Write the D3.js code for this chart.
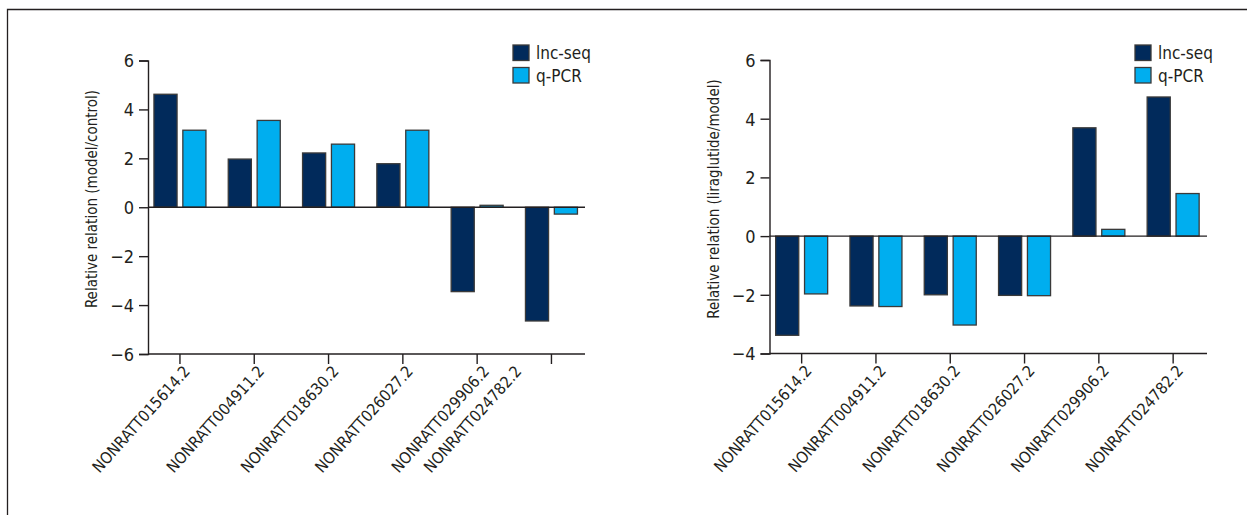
<!DOCTYPE html>
<html>
<head>
<meta charset="utf-8">
<script src="https://cdn.jsdelivr.net/npm/d3@7"></script>
<style>
  html, body { margin: 0; padding: 0; background: #fff; }
  svg { display: block; }
  text { font-family: "Liberation Sans Narrow", "DejaVu Sans Condensed", "Roboto Condensed", sans-serif; fill: #231f20; }
</style>
</head>
<body>
<svg id="chart" width="1247" height="515"></svg>
<script>
// ---- data ----
const categories = ["NONRATT015614.2", "NONRATT004911.2", "NONRATT018630.2", "NONRATT026027.2", "NONRATT029906.2", "NONRATT024782.2"];
const seriesNames = ["lnc-seq", "q-PCR"];
const leftLncSeq = [4.62, 1.97, 2.22, 1.78, -3.45, -4.65];
const leftQPCR   = [3.15, 3.55, 2.58, 3.15, 0.08, -0.28];
const rightLncSeq = [-3.38, -2.38, -2.0, -2.02, 3.69, 4.74];
const rightQPCR   = [-1.97, -2.40, -3.03, -2.03, 0.23, 1.45];
const leftYTicks = [-6, -4, -2, 0, 2, 4, 6];
const rightYTicks = [-4, -2, 0, 2, 4, 6];
const leftYLabel = "Relative relation (model/control)";
const rightYLabel = "Relative relation (liraglutide/model)";

const colors = { "lnc-seq": "#012a5b", "q-PCR": "#00aeef" };
const svg = d3.select("#chart");

// frame
svg.append("path").attr("d", "M7.5,515 L7.5,9.5 L1247,9.5")
  .attr("fill", "none").attr("stroke", "#231f20").attr("stroke-width", 1.3);

function drawPanel(cfg) {
  const g = svg.append("g");
  const x = d3.scaleBand().domain(categories).range(cfg.xRange).paddingInner(0).paddingOuter(0);
  const inner = d3.scaleBand().domain(seriesNames).range([-26, 26]).paddingInner(0.2);
  const y = d3.scaleLinear().domain(cfg.yDomain).range(cfg.yRange);
  const rows = categories.map((c, i) => ({ cat: c, vals: [
    { key: "lnc-seq", v: cfg.lnc[i] }, { key: "q-PCR", v: cfg.qpcr[i] } ] }));

  // bars
  const grp = g.selectAll("g.grp").data(rows).join("g")
    .attr("transform", d => `translate(${x(d.cat) + x.bandwidth() / 2},0)`);
  grp.selectAll("rect").data(d => d.vals).join("rect")
    .attr("x", d => inner(d.key))
    .attr("width", inner.bandwidth())
    .attr("y", d => Math.min(y(d.v), y(0)))
    .attr("height", d => Math.abs(y(d.v) - y(0)))
    .attr("fill", d => colors[d.key])
    .attr("stroke", "#3a3a3a").attr("stroke-width", 1.3);

  // zero line
  g.append("line").attr("x1", cfg.axisX).attr("x2", cfg.axisEnd)
    .attr("y1", y(0)).attr("y2", y(0)).attr("stroke", "#231f20").attr("stroke-width", 1.4);

  // y axis
  const yAxis = d3.axisLeft(y).tickValues(cfg.yTicks).tickSize(9).tickPadding(5)
    .tickFormat(d => d < 0 ? "\u2212" + Math.abs(d) : d);
  const ya = g.append("g").attr("transform", `translate(${cfg.axisX},0)`).call(yAxis);
  ya.select(".domain").attr("stroke", "#231f20").attr("stroke-width", 1.4);
  ya.selectAll(".tick line").attr("stroke", "#231f20").attr("stroke-width", 1.4);
  ya.selectAll(".tick text").style("font-size", "18px").attr("fill", "#231f20").attr("dy", "0.36em");

  // x axis
  const bottom = cfg.yRange[0];
  g.append("line").attr("x1", cfg.axisX).attr("x2", cfg.axisEnd)
    .attr("y1", bottom).attr("y2", bottom).attr("stroke", "#231f20").attr("stroke-width", 1.4);
  const xAxis = d3.axisBottom(x).tickSize(10).tickSizeOuter(0).tickFormat("");
  const xa = g.append("g").attr("transform", `translate(0,${bottom})`).call(xAxis);
  xa.select(".domain").remove();
  xa.selectAll(".tick line").attr("stroke", "#231f20").attr("stroke-width", 1.4);
  g.selectAll("text.xlab").data(categories).join("text").attr("class", "xlab")
    .attr("transform", (d, i) => {
      const sh = cfg.labelShift[i] || 0;
      return `translate(${x(d) + x.bandwidth() / 2 + 11 + sh},${bottom + 18}) rotate(-48)`;
    })
    .attr("text-anchor", "end")
    .style("font-size", "16px")
    .text(d => d);

  // y label
  g.append("text")
    .attr("transform", `translate(${cfg.yLabelX},${cfg.yLabelY}) rotate(-90)`)
    .attr("text-anchor", "middle").style("font-size", "15px").text(cfg.yLabel);

  // legend
  const lg = g.append("g").attr("transform", `translate(${cfg.legendX},${cfg.legendY})`);
  seriesNames.forEach((s, i) => {
    lg.append("rect").attr("x", 0).attr("y", i * 22.5).attr("width", 16).attr("height", 15.5)
      .attr("fill", colors[s]).attr("stroke", "#3a3a3a").attr("stroke-width", 1.3);
    lg.append("text").attr("x", 23).attr("y", i * 22.5 + 14).style("font-size", "17px").text(s);
  });
}

drawPanel({
  lnc: leftLncSeq, qpcr: leftQPCR, yTicks: leftYTicks, yLabel: leftYLabel,
  yDomain: [-6, 6], yRange: [354, 60.5], xRange: [142.8, 588.6],
  axisX: 148, axisEnd: 585, yLabelX: 97, yLabelY: 199,
  legendX: 513, legendY: 45, labelShift: [0, 0, 0, 0, 2, -40]
});
drawPanel({
  lnc: rightLncSeq, qpcr: rightQPCR, yTicks: rightYTicks, yLabel: rightYLabel,
  yDomain: [-4, 6], yRange: [353.5, 60], xRange: [764.5, 1210.3],
  axisX: 769.5, axisEnd: 1207, yLabelX: 719, yLabelY: 199,
  legendX: 1135, legendY: 45, labelShift: [0, 0, 0, 0, 0, 0]
});
</script>
</body>
</html>
